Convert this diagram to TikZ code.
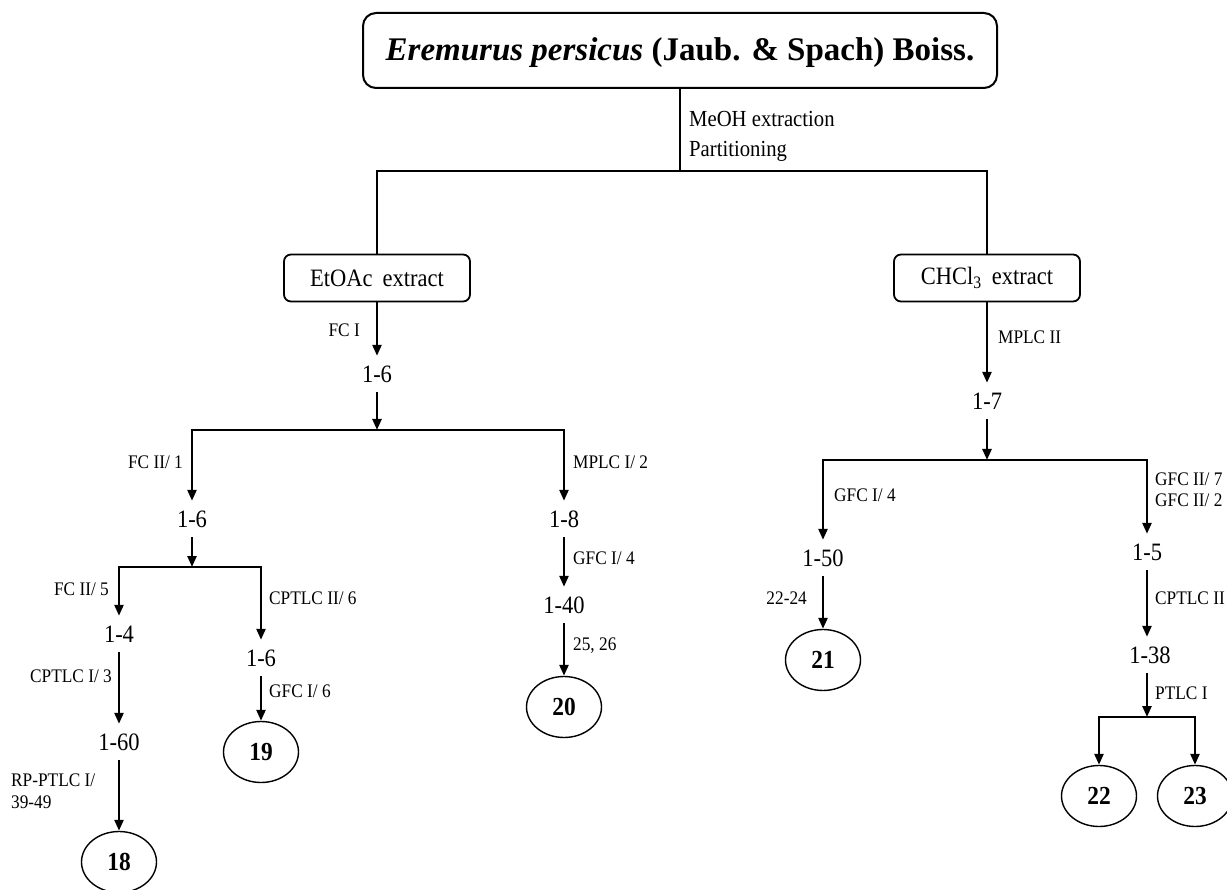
\documentclass[tikz,border=0pt]{standalone}
\usepackage{fontspec}
\setmainfont{Liberation Serif}
\newfontfamily\cond{Liberation Serif}[FakeStretch=0.9]
\usetikzlibrary{arrows.meta,shapes.geometric}
\begin{document}
\begin{tikzpicture}[x=1pt,y=-1pt,
  line/.style={line width=2.4pt},
  arr/.style={line width=2.4pt,-{Triangle[length=11pt,width=9pt]}},
  rbox/.style={draw,line width=1.8pt,rounded corners=7pt,minimum width=186pt,minimum height=47pt,inner sep=0pt,font=\cond\fontsize{25}{29}\selectfont},
  num/.style={inner sep=0pt,minimum height=36pt,font=\cond\fontsize{25}{29}\selectfont},
  cmp/.style={draw,ellipse,line width=1.4pt,minimum width=75pt,minimum height=61pt,inner sep=0pt,font=\cond\fontsize{26}{30}\selectfont\bfseries},
  lab/.style={inner sep=0pt,font=\cond\fontsize{19.2}{22}\selectfont},
  big/.style={inner sep=0pt,font=\cond\fontsize{23}{27}\selectfont},
]
\useasboundingbox (0,0) rectangle (1227,890);

% top
\node[draw,line width=2pt,rounded corners=13pt,minimum width=634pt,minimum height=75pt,inner sep=0pt,
      text height=23pt,text depth=2pt,font=\fontsize{33}{38}\selectfont\bfseries] (title) at (680,50.5)
      {\textit{Eremurus persicus} (Jaub. \& Spach) Boiss.};
\node[big,anchor=base west] (meoh) at (689,127) {MeOH extraction};
\node[big,anchor=base west] (part) at (689,157) {Partitioning};
\coordinate (j0) at (680,171);

\node[rbox] (etoac) at (377,278) {EtOAc\hspace{0.4em}extract};
\node[rbox] (chcl) at (987,278) {CHCl\textsubscript{3}\hspace{0.4em}extract};

\draw[line] (title.south) -- (j0);
\draw[line] (etoac.north) |- (j0) -| (chcl.north);

% EtOAc branch
\node[num] (a16) at (377,374) {1-6};
\draw[arr] (etoac.south) -- (a16.north);
\node[lab,anchor=east] (lfc1) at (360,330) {FC I};
\coordinate (j1) at (377,430);
\draw[arr] (a16.south) -- (j1);

\node[num] (b16) at (192,519) {1-6};
\node[num] (b18) at (564,519) {1-8};
\draw[arr] (j1) -| (b16.north);
\draw[arr] (j1) -| (b18.north);
\node[lab,anchor=east] (lfc2) at (183,462) {FC II/ 1};
\node[lab,anchor=west] (lmp1) at (573,462) {MPLC I/ 2};

\coordinate (j2) at (192,567);
\draw[arr] (b16.south) -- (j2);
\node[num] (c14) at (119,634) {1-4};
\node[num] (c16) at (261,658) {1-6};
\draw[arr] (j2) -| (c14.north);
\draw[arr] (j2) -| (c16.north);
\node[lab,anchor=east] (lfc5) at (109,589) {FC II/ 5};
\node[lab,anchor=west] (lcp6) at (269,598) {CPTLC II/ 6};

\node[num] (d160) at (119,742) {1-60};
\draw[arr] (c14.south) -- (d160.north);
\node[lab,anchor=east] (lcp3) at (112,676) {CPTLC I/ 3};

\node[cmp] (c19) at (261,752) {19};
\draw[arr] (c16.south) -- (c19.north);
\node[lab,anchor=west] (lgf6) at (269,691) {GFC I/ 6};

\node[cmp] (e18) at (119,862) {18};
\draw[arr] (d160.south) -- (e18.north);
\node[lab,anchor=west] (lrp1) at (11,780) {RP-PTLC I/};
\node[lab,anchor=west] (lrp2) at (11,802) {39-49};

\node[num] (f140) at (564,605) {1-40};
\draw[arr] (b18.south) -- (f140.north);
\node[lab,anchor=west] (lgf4a) at (573,558) {GFC I/ 4};

\node[cmp] (c20) at (564,707) {20};
\draw[arr] (f140.south) -- (c20.north);
\node[lab,anchor=west] (l2526) at (573,646) {25, 26};

% CHCl3 branch
\node[num] (g17) at (987,401) {1-7};
\draw[arr] (chcl.south) -- (g17.north);
\node[lab,anchor=west] (lmp2) at (998,337) {MPLC II};
\coordinate (j3) at (987,460);
\draw[arr] (g17.south) -- (j3);

\node[num] (h150) at (823,558) {1-50};
\node[num] (h15) at (1147,552) {1-5};
\draw[arr] (j3) -| (h150.north);
\draw[arr] (j3) -| (h15.north);
\node[lab,anchor=west] (lgf4b) at (834,495) {GFC I/ 4};
\node[lab,anchor=west] (lgf7) at (1155,479) {GFC II/ 7};
\node[lab,anchor=west] (lgf2) at (1155,500) {GFC II/ 2};

\node[cmp] (c21) at (823,660) {21};
\draw[arr] (h150.south) -- (c21.north);
\node[lab,anchor=east] (l2224) at (807,598) {22-24};

\node[num] (i138) at (1150,655) {1-38};
\draw[arr] (h15.south) -- (h15.south |- i138.north);
\node[lab,anchor=west] (lcp2) at (1155,598) {CPTLC II};

\coordinate (j4) at (1147,717);
\draw[arr] (h15.south |- i138.south) -- (j4);
\node[lab,anchor=west] (lptlc) at (1155,693) {PTLC I};

\node[cmp] (c22) at (1099,796) {22};
\node[cmp] (c23) at (1195,796) {23};
\draw[arr] (j4) -| (c22.north);
\draw[arr] (j4) -| (c23.north);
\end{tikzpicture}
\end{document}
